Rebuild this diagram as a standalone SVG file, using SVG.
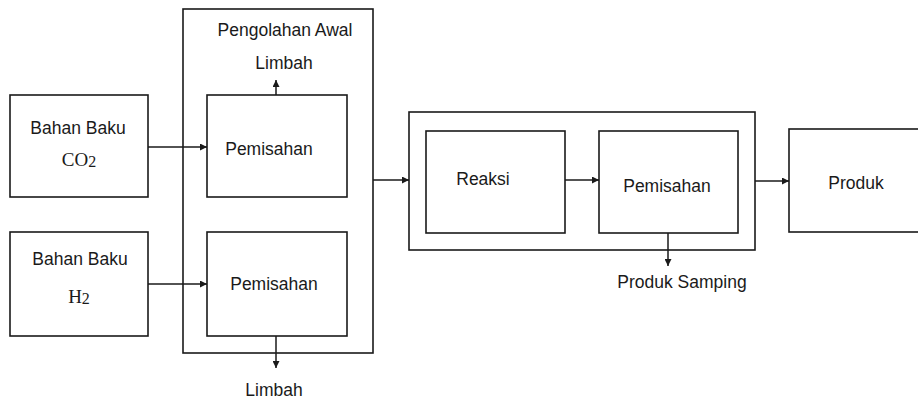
<svg xmlns="http://www.w3.org/2000/svg" width="918" height="400" viewBox="0 0 918 400">
<defs>
<marker id="arr" viewBox="0 0 10 10" refX="10" refY="5" markerWidth="9" markerHeight="7" markerUnits="userSpaceOnUse" orient="auto">
<path d="M0,0 L10,5 L0,10 z" fill="#1a1a1a"/>
</marker>
</defs>
<style>
.box{fill:none;stroke:#1a1a1a;stroke-width:1.6}
.ln{fill:none;stroke:#1a1a1a;stroke-width:1.5;marker-end:url(#arr)}
.t{font-family:"Liberation Sans",Arial,sans-serif;font-size:17.5px;fill:#1a1a1a;text-anchor:middle}
.s{font-family:"Liberation Serif","Times New Roman",serif;font-size:19px;fill:#1a1a1a;text-anchor:middle}
</style>
<rect width="918" height="400" fill="#fff"/>
<g id="pengolahan-awal">
<rect class="box" x="183" y="9" width="190" height="344"/>
<text class="t" x="285" y="36" font-size="16.5">Pengolahan Awal</text>
</g>
<g id="bahan-baku-co2">
<rect class="box" x="10" y="95" width="138" height="102"/>
<text class="t" x="78" y="134">Bahan Baku</text>
<text class="s" x="79" y="166">CO<tspan font-size="16" dy="1">2</tspan></text>
</g>
<g id="bahan-baku-h2">
<rect class="box" x="10" y="232" width="138" height="104"/>
<text class="t" x="80" y="265">Bahan Baku</text>
<text class="s" x="79" y="303">H<tspan font-size="16" dy="1">2</tspan></text>
</g>
<g id="pemisahan-1">
<rect class="box" x="207" y="95" width="140" height="102"/>
<text class="t" x="269" y="155">Pemisahan</text>
</g>
<g id="pemisahan-2">
<rect class="box" x="207" y="232" width="140" height="104"/>
<text class="t" x="274" y="290">Pemisahan</text>
</g>
<g id="limbah-1"><text class="t" x="284" y="69">Limbah</text></g>
<g id="limbah-2"><text class="t" x="274" y="396">Limbah</text></g>
<g id="proses">
<rect class="box" x="409" y="112" width="346" height="138"/>
</g>
<g id="reaksi">
<rect class="box" x="426" y="131" width="139" height="102"/>
<text class="t" x="483" y="185">Reaksi</text>
</g>
<g id="pemisahan-3">
<rect class="box" x="599" y="131" width="139" height="102"/>
<text class="t" x="667" y="192">Pemisahan</text>
</g>
<g id="produk-samping"><text class="t" x="682" y="288">Produk Samping</text></g>
<g id="produk">
<rect class="box" x="789" y="129" width="140" height="103"/>
<text class="t" x="856" y="189">Produk</text>
</g>
<g id="connectors">
<line class="ln" x1="148" y1="147" x2="207" y2="147"/>
<line class="ln" x1="148" y1="284" x2="207" y2="284"/>
<line class="ln" x1="276" y1="95" x2="276" y2="80"/>
<line class="ln" x1="276" y1="336" x2="276" y2="368"/>
<line class="ln" x1="373" y1="180" x2="409" y2="180"/>
<line class="ln" x1="565" y1="180" x2="599" y2="180"/>
<line class="ln" x1="668" y1="233" x2="668" y2="266"/>
<line class="ln" x1="755" y1="181" x2="789" y2="181"/>
</g>
</svg>
